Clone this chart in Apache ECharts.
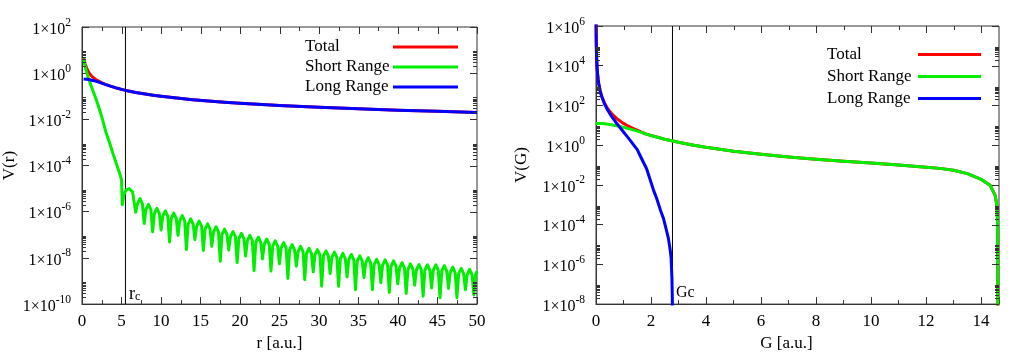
<!DOCTYPE html>
<html><head><meta charset="utf-8">
<script src="https://cdn.jsdelivr.net/npm/echarts@6/dist/echarts.min.js"></script>
<style>html,body{margin:0;padding:0;background:#fff}#c{width:1024px;height:357px}</style>
</head><body><div id="c"></div>
<script>
// ---------- data ----------
const seriesNames = ['Total', 'Short Range', 'Long Range'];
const rCut = 5.5;      // r_c marker
const gCut = 2.78;     // Gc marker
const rLabel = 'r';
const gLabel = 'Gc';

// left panel: V(r)
const rGrid     = [0.2,0.4,0.6,0.8,1.0,1.25,1.5,1.75,2.0,2.5,3.0,3.5,4.0,4.5,5.0,5.5,6,7,8,9,10,12,14,16,18,20,25,30,35,40,45,50];
const longRangeR= [0.56,0.55,0.55,0.535,0.52,0.495,0.474,0.45,0.42,0.369,0.322,0.281,0.249,0.221,0.199,0.18,0.166,0.143,0.125,0.111,0.1,0.0833,0.0714,0.0625,0.0556,0.05,0.04,0.0333,0.0286,0.025,0.0222,0.02];
const totalR    = [4.86,2.45,1.65,1.16,0.92,0.725,0.61,0.53,0.465,0.382,0.325,0.282,0.25,0.221,0.199,0.18,0.166,0.143,0.125,0.111,0.1,0.0833,0.0714,0.0625,0.0556,0.05,0.04,0.0333,0.0286,0.025,0.0222,0.02];
const shortRangeR = [
 [0.2,4.3],[0.4,1.9],[0.6,1.1],[0.8,0.62],[1.0,0.40],[1.25,0.23],[1.5,0.135],[1.75,0.08],[2.0,0.045],[2.5,0.013],
 [3.0,3.0e-3],[3.5,9.5e-4],[4.0,2.7e-4],[4.5,8.5e-5],[4.8,4.2e-5],[5.0,2.5e-5],[5.1,2.0e-6],[5.3,5.6e-6],[5.6,8.9e-6],[6.0,1.0e-5],[6.4,7.1e-6],
 [6.8,9.5e-7],[7.02,2.2e-6],[7.34,3.7e-6],[7.65,2.2e-6],
 [7.87,3.1e-7],[8.09,1.23e-6],[8.41,2.1e-6],[8.72,1.23e-6],
 [8.94,1.35e-7],[9.16,8.3e-7],[9.48,1.41e-6],[9.79,8.3e-7],
 [10.01,1.6e-7],[10.23,6.5e-7],[10.55,1.1e-6],[10.86,6.5e-7],
 [11.08,4.9e-8],[11.3,5.1e-7],[11.62,8.7e-7],[11.93,5.1e-7],
 [12.15,9.5e-8],[12.37,4.0e-7],[12.69,6.8e-7],[13.0,4.0e-7],
 [13.22,2.3e-8],[13.44,2.9e-7],[13.76,4.9e-7],[14.07,2.9e-7],
 [14.29,6.2e-8],[14.51,2.3e-7],[14.83,3.9e-7],[15.14,2.3e-7],
 [15.36,2.1e-8],[15.58,1.78e-7],[15.9,3.0e-7],[16.21,1.78e-7],
 [16.43,3.2e-8],[16.65,1.32e-7],[16.97,2.24e-7],[17.28,1.32e-7],
 [17.5,7.1e-9],[17.72,1.05e-7],[18.04,1.78e-7],[18.35,1.05e-7],
 [18.57,2.2e-8],[18.79,8.1e-8],[19.11,1.38e-7],[19.42,8.1e-8],
 [19.64,6.3e-9],[19.86,6.8e-8],[20.18,1.15e-7],[20.49,6.8e-8],
 [20.71,1.2e-8],[20.93,5.6e-8],[21.25,9.5e-8],[21.56,5.6e-8],
 [21.78,2.8e-9],[22.0,4.7e-8],[22.32,7.9e-8],[22.63,4.7e-8],
 [22.85,9.1e-9],[23.07,3.9e-8],[23.39,6.6e-8],[23.7,3.9e-8],
 [23.92,2.7e-9],[24.14,3.2e-8],[24.46,5.5e-8],[24.77,3.2e-8],
 [24.99,5.6e-9],[25.21,2.7e-8],[25.53,4.6e-8],[25.84,2.7e-8],
 [26.06,1.3e-9],[26.28,2.24e-8],[26.6,3.8e-8],[26.91,2.24e-8],
 [27.13,4.4e-9],[27.35,1.86e-8],[27.67,3.16e-8],[27.98,1.86e-8],
 [28.2,1.15e-9],[28.42,1.55e-8],[28.74,2.6e-8],[29.05,1.55e-8],
 [29.27,2.5e-9],[29.49,1.35e-8],[29.81,2.3e-8],[30.12,1.35e-8],
 [30.34,6.0e-10],[30.56,1.2e-8],[30.88,2.0e-8],[31.19,1.2e-8],
 [31.41,2.1e-9],[31.63,1.05e-8],[31.95,1.78e-8],[32.26,1.05e-8],
 [32.48,5.9e-10],[32.7,9.3e-9],[33.02,1.58e-8],[33.33,9.3e-9],
 [33.55,1.5e-9],[33.77,8.3e-9],[34.09,1.41e-8],[34.4,8.3e-9],
 [34.62,4.2e-10],[34.84,7.2e-9],[35.16,1.23e-8],[35.47,7.2e-9],
 [35.69,1.4e-9],[35.91,6.0e-9],[36.23,1.02e-8],[36.54,6.0e-9],
 [36.76,4.2e-10],[36.98,5.1e-9],[37.3,8.7e-9],[37.61,5.1e-9],
 [37.83,8.5e-10],[38.05,4.9e-9],[38.37,8.3e-9],[38.68,4.9e-9],
 [38.9,3.2e-10],[39.12,4.4e-9],[39.44,7.4e-9],[39.75,4.4e-9],
 [39.97,7.6e-10],[40.19,3.6e-9],[40.51,6.2e-9],[40.82,3.6e-9],
 [41.04,2.9e-10],[41.26,3.2e-9],[41.58,5.5e-9],[41.89,3.2e-9],
 [42.11,6.6e-10],[42.33,3.0e-9],[42.65,5.1e-9],[42.96,3.0e-9],
 [43.18,2.2e-10],[43.4,2.95e-9],[43.72,5.0e-9],[44.03,2.95e-9],
 [44.25,5.0e-10],[44.47,2.95e-9],[44.79,5.0e-9],[45.1,2.95e-9],
 [45.32,1.9e-10],[45.54,2.7e-9],[45.86,4.6e-9],[46.17,2.7e-9],
 [46.39,4.8e-10],[46.61,2.3e-9],[46.93,4.0e-9],[47.24,2.3e-9],
 [47.46,1.9e-10],[47.68,2.1e-9],[48.0,3.5e-9],[48.31,2.1e-9],
 [48.53,4.2e-10],[48.75,1.86e-9],[49.07,3.16e-9],[49.38,1.86e-9],
 [49.6,2.5e-10],[49.82,1.9e-9],[50.0,2.6e-9]
];

// right panel: V(G)
const totalG = [
 [0.003,1.4e6],[0.01,1.26e5],[0.02,3.14e4],[0.04,7.85e3],[0.06,3.5e3],[0.08,1.97e3],[0.1,1.27e3],[0.15,560],[0.2,315],[0.3,140],
 [0.4,79],[0.5,50.3],[0.6,35],[0.75,22.3],[0.9,15.5],[1.0,12.5],[1.1,10.4],[1.25,8.1],[1.4,6.4],[1.5,5.7],[1.65,4.6],[1.75,4.0],
 [1.84,3.6],[2.0,3.1],[2.5,2.0],[3.0,1.4],[3.5,1.03],[4.0,0.78],[4.5,0.62],[5.0,0.5],[6,0.35],[7,0.256],[8,0.196],[9,0.155],
 [10,0.126],[11,0.1],[12,0.078],[12.5,0.068],[13,0.055],[13.5,0.037],[14.0,0.019],[14.33,0.0095],[14.51,3.0e-3],[14.57,1.0e-3],
 [14.6,1.0e-4],[14.61,1e-9]
];
const shortRangeG = [
 [0,12.5],[0.25,12.2],[0.5,11.1],[0.75,9.6],[1.0,7.9],[1.25,6.4],[1.5,5.1],[1.75,3.9],[2.0,3.08],[2.5,2.0],[3.0,1.4],[3.5,1.03],
 [4.0,0.78],[4.5,0.62],[5.0,0.5],[6,0.35],[7,0.256],[8,0.196],[9,0.155],[10,0.126],[11,0.1],[12,0.078],[12.5,0.068],[13,0.055],
 [13.5,0.037],[14.0,0.019],[14.33,0.0095],[14.51,3.0e-3],[14.57,1.0e-3],[14.6,1.0e-4],[14.61,1e-9]
];
const longRangeG = [
 [0.003,1.4e6],[0.01,1.26e5],[0.02,3.14e4],[0.04,7.85e3],[0.06,3.49e3],[0.08,1.96e3],[0.1,1.24e3],[0.15,548],[0.2,302],[0.3,128],
 [0.4,67],[0.5,39],[0.6,24.4],[0.75,12.7],[0.9,6.9],[1.0,4.6],[1.1,3.1],[1.25,1.7],[1.4,0.9],[1.5,0.6],[1.65,0.22],[1.84,0.065],
 [1.96,0.02],[2.1,5e-3],[2.21,2e-3],[2.35,5e-4],[2.45,2.1e-4],[2.55,6e-5],[2.63,2.1e-5],[2.7,5e-6],[2.73,2.1e-6],[2.76,2.1e-7],
 [2.775,2e-8],[2.78,1e-9]
];

// axis ranges / tick steps
const rAxis = {min: 0, max: 50, step: 5};
const gAxis = {min: 0, max: 14.65, step: 2};
const vrAxis = {min: 1e-10, max: 1e2};
const vgAxis = {min: 1e-8, max: 1e6};
const decadeStep = 2;                        // labelled every 2 decades
const minorMultipliers = [2,3,4,5,6,7,8,9];  // minor log ticks above each labelled decade

// ---------- chart ----------
const FONT = '"Liberation Serif","Times New Roman",serif';
const AX = '#333';
const colors = ['#ff0000', '#00ee00', '#0000ff'];

function expLabel(v) {
  const e = Math.round(Math.log10(v));
  return '{m|1×10}{s|' + e + '}';
}
function minorValues(ax) {
  const out = [];
  const e0 = Math.round(Math.log10(ax.min)), e1 = Math.round(Math.log10(ax.max));
  for (let e = e0; e < e1; e += decadeStep) for (const m of minorMultipliers) out.push(m * Math.pow(10, e));
  return out;
}
// mirrored / minor tick positions (values only; placed through the axes' scales)
function tickData(xa, ya) {
  const d = [];
  const half = xa.step / 2;
  const n = Math.floor((xa.max - xa.min) / half + 1e-9);
  for (let k = 0; k <= n; k++) d.push([xa.min + k * half, ya.max, k % 2 === 0 ? 7 : 4, 0]);
  const e0 = Math.round(Math.log10(ya.min)), e1 = Math.round(Math.log10(ya.max));
  for (let e = e0; e <= e1; e += decadeStep) d.push([xa.max, Math.pow(10, e), 7, 1]);
  minorValues(ya).forEach(m => { d.push([xa.max, m, 4, 1]); d.push([xa.min, m, 4, 2]); });
  return d;
}
function renderTick(params, api) {
  const cs = params.coordSys;
  const p = api.coord([api.value(0), api.value(1)]);
  const len = api.value(2), side = api.value(3);
  let shape;
  if (side === 0) {
    const x = Math.round(p[0]) + 0.5;
    shape = {x1: x, y1: cs.y, x2: x, y2: cs.y + len};
  } else if (side === 1) {
    const y = Math.round(p[1]) + 0.5, x = cs.x + cs.width;
    shape = {x1: x, y1: y, x2: x - len, y2: y};
  } else {
    const y = Math.round(p[1]) + 0.5;
    shape = {x1: cs.x, y1: y, x2: cs.x + len, y2: y};
  }
  return {type: 'line', shape, style: {stroke: AX, lineWidth: 1}};
}

const yRich = () => ({
  m: {fontSize: 16, fontFamily: FONT, color: '#000', verticalAlign: 'bottom'},
  s: {fontSize: 11.5, fontFamily: FONT, color: '#000', verticalAlign: 'bottom', padding: [0, 0, 9, 0]}
});
const lineAx = () => ({show: true, onZero: false, lineStyle: {color: AX, width: 1}});
const tick = () => ({show: true, inside: true, length: 7, lineStyle: {color: AX, width: 1}});
const minor = () => ({show: true, splitNumber: 2, length: 4, lineStyle: {color: AX, width: 1}});

function xAx(grid, ax, name) {
  return {
    gridIndex: grid, type: 'value', position: 'bottom', min: ax.min, max: ax.max, interval: ax.step,
    axisLine: lineAx(), axisTick: tick(), minorTick: minor(), splitLine: {show: false},
    axisLabel: {fontFamily: FONT, fontSize: 17, color: '#000', margin: 9, showMaxLabel: ax.max % ax.step === 0},
    name, nameLocation: 'middle', nameGap: 30,
    nameTextStyle: {fontFamily: FONT, fontSize: 17, color: '#000', padding: grid === 1 ? [0, 22, 0, 0] : 0}
  };
}
function yAx(grid, ax, name, gap) {
  return {
    gridIndex: grid, type: 'log', logBase: 10, position: 'left', min: ax.min, max: ax.max, interval: decadeStep,
    axisLine: lineAx(), axisTick: tick(), minorTick: {show: false},
    splitLine: {show: false},
    axisLabel: {formatter: expLabel, rich: yRich(), margin: 11},
    name, nameLocation: 'middle', nameGap: gap, nameRotate: 90,
    nameTextStyle: {fontFamily: FONT, fontSize: 17, color: '#000'}
  };
}
function line(name, data, xi, yi, color) {
  return {
    name, type: 'line', data, xAxisIndex: xi, yAxisIndex: yi, symbol: 'none', showSymbol: false,
    clip: true, lineStyle: {color, width: 3, join: 'round'}, itemStyle: {color}, silent: true
  };
}
function cutLine(name, cut, yAxis, xi, yi, label) {
  return {
    name, type: 'line', data: [[cut, yAxis.min], [cut, yAxis.max]], xAxisIndex: xi, yAxisIndex: yi,
    symbol: 'none', showSymbol: false, silent: true, clip: true,
    lineStyle: {color: '#000', width: 1}, itemStyle: {color: '#000'},
    markPoint: {silent: true, symbol: 'circle', symbolSize: 1, itemStyle: {color: 'rgba(0,0,0,0)'},
      data: [{coord: [cut, yAxis.min]}], label}
  };
}
function tickSeries(xa, ya, idx) {
  return {
    name: 'ticks' + idx, type: 'custom', xAxisIndex: idx, yAxisIndex: idx, data: tickData(xa, ya),
    encode: {x: 0, y: 1}, renderItem: renderTick, silent: true, clip: false, z: 5
  };
}
function legend(left, top, rowH, textW, iconW) {
  return {
    data: seriesNames, orient: 'vertical', left, top, align: 'right', itemGap: 0, padding: 0,
    itemWidth: iconW, itemHeight: 3, icon: 'rect', selectedMode: false,
    formatter: n => '{t|' + n + '}',
    textStyle: {fontFamily: FONT, fontSize: 17, color: '#000', lineHeight: rowH,
      rich: {t: {width: textW, align: 'left', fontFamily: FONT, fontSize: 17, color: '#000', lineHeight: rowH}}}
  };
}

const rPairs = a => rGrid.map((r, i) => [r, a[i]]);

const option = {
  animation: false,
  backgroundColor: '#fff',
  grid: [
    {left: 80, top: 27, width: 397, height: 277.5, show: true, borderColor: AX, borderWidth: 1, backgroundColor: 'transparent'},
    {left: 596, top: 26, width: 403, height: 282, show: true, borderColor: AX, borderWidth: 1, backgroundColor: 'transparent'}
  ],
  legend: [legend(305, 37, 20, 83, 65), legend(827, 43.5, 22, 86, 63)],
  xAxis: [xAx(0, rAxis, 'r [a.u.]'), xAx(1, gAxis, 'G [a.u.]')],
  yAxis: [yAx(0, vrAxis, 'V(r)', 64), yAx(1, vgAxis, 'V(G)', 66)],
  series: [
    cutLine('rc', rCut, vrAxis, 0, 0, {show: true, position: [4, -18.5], formatter: '{a|' + rLabel + '}{b|c}',
      rich: {a: {fontFamily: FONT, fontSize: 18, color: '#000', verticalAlign: 'top'},
             b: {fontFamily: FONT, fontSize: 12, color: '#000', verticalAlign: 'top', padding: [6, 0, 0, 0]}}}),
    line(seriesNames[0], rPairs(totalR), 0, 0, colors[0]),
    line(seriesNames[1], shortRangeR, 0, 0, colors[1]),
    line(seriesNames[2], rPairs(longRangeR), 0, 0, colors[2]),
    tickSeries(rAxis, vrAxis, 0),
    cutLine('Gc', gCut, vgAxis, 1, 1, {show: true, position: [4, -19], formatter: gLabel, fontFamily: FONT, fontSize: 16, color: '#000'}),
    line(seriesNames[0], totalG, 1, 1, colors[0]),
    line(seriesNames[1], shortRangeG, 1, 1, colors[1]),
    line(seriesNames[2], longRangeG, 1, 1, colors[2]),
    tickSeries(gAxis, vgAxis, 1)
  ]
};
const chart = echarts.init(document.getElementById('c'), null, {renderer: 'canvas'});
chart.setOption(option);
</script></body></html>
